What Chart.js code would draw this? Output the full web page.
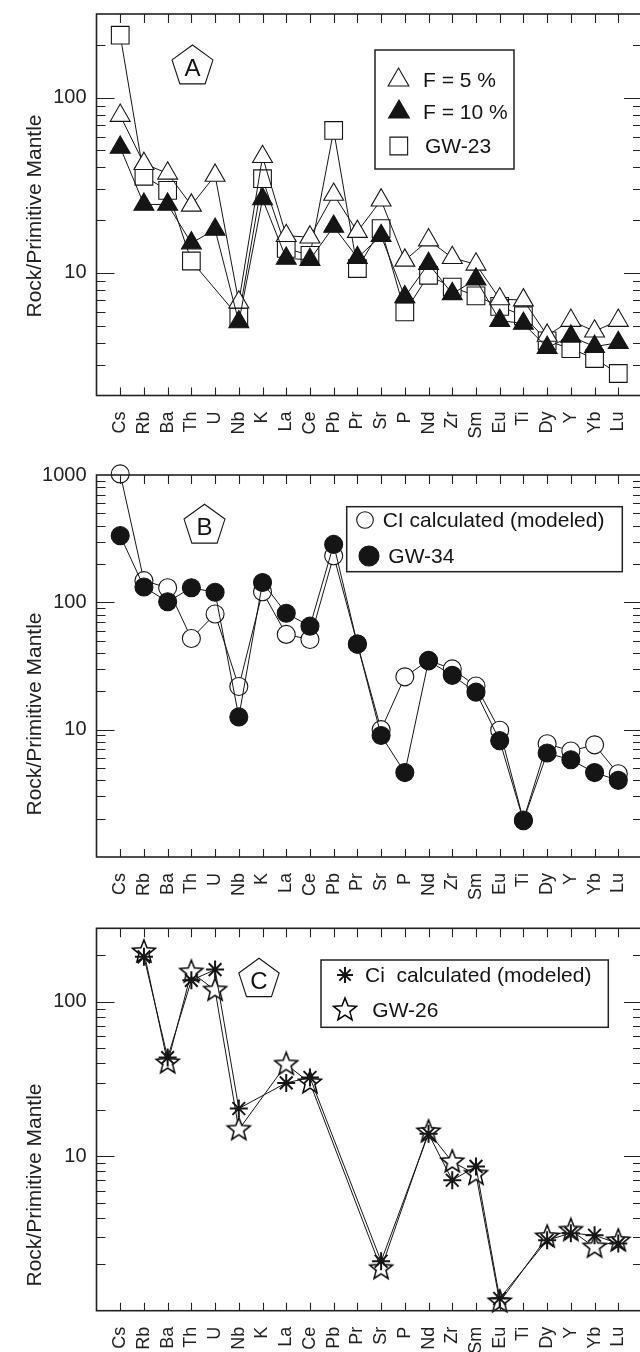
<!DOCTYPE html>
<html>
<head>
<meta charset="utf-8">
<script src="https://cdn.jsdelivr.net/npm/chart.js"></script>
<style>
  html, body { margin: 0; padding: 0; background: #fff; overflow: hidden; }
  body { width: 640px; height: 1352px; position: relative; }
  canvas { position: absolute; left: 0; }
</style>
</head>
<body>
<canvas id="chartA" width="642" height="445" style="top:0px"></canvas>
<canvas id="chartB" width="642" height="460" style="top:445px"></canvas>
<canvas id="chartC" width="642" height="447" style="top:905px"></canvas>
<script>
// trace elements, primitive-mantle normalised
var elements = ["Cs", "Rb", "Ba", "Th", "U", "Nb", "K", "La", "Ce", "Pb", "Pr",
  "Sr", "P", "Nd", "Zr", "Sm", "Eu", "Ti", "Dy", "Y", "Yb", "Lu"];

// panel A: partial melting models and GW-23
var meltF5 = [79, 42, 37, 24.3, 36, 6.8, 46, 16.3, 16, 28, 17.2, 26, 11.8, 15.4, 12.2, 11.2, 7.1, 7.0, 4.4, 5.35, 4.65, 5.35];
var meltF10 = [52, 24.6, 24.6, 14.8, 17.7, 5.25, 26.4, 12.1, 11.9, 18.4, 12.2, 16.3, 7.3, 11.3, 7.6, 9.2, 5.35, 5.15, 3.75, 4.35, 3.8, 4.0];
var gw23 = [227, 35.6, 29.6, 11.7, null, 5.6, 34.5, 13.8, 12.6, 65, 10.6, 17.9, 6.0, 9.7, 8.3, 7.4, 6.45, 5.7, 4.1, 3.7, 3.25, 2.67];

// panel B: modeled CI and GW-34
var ciModelB = [1020, 148, 130, 52, 81, 21.8, 121, 56, 51, 232, 47, 10, 26, 35, 30, 22, 9.9, 1.95, 7.75, 6.8, 7.6, 4.5];
var gw34 = [334, 132, 101, 130, 120, 12.6, 143, 82, 65, 285, 47, 9.0, 4.6, 34.7, 26.7, 19.7, 8.2, 1.93, 6.55, 5.8, 4.6, 4.0];

// panel C: modeled Ci and GW-26
var ciModelC = [null, 196, 43.6, 138, 162, 20.4, null, 29.9, 32.4, null, null, 2.09, null, 14, 7.0, 8.6, 1.2, null, 2.86, 3.18, 3.08, 2.72];
var gw26 = [null, 211, 40.3, 156, 119, 14.9, null, 39.4, 29.9, null, null, 1.87, null, 14.4, 9.2, 7.64, 1.14, null, 3.0, 3.31, 2.58, 2.83];

// labelled y ticks
var yLabelsA = [10, 100];
var yLabelsB = [10, 100, 1000];
var yLabelsC = [10, 100];

var INK = "#151515";
var FONT = '"Liberation Sans", Arial, Helvetica, sans-serif';

// blank slot at each end so the first/last element sit one step in from the frame
function padded(arr) {
  return [null].concat(arr, [null]);
}
var xLabels = [""].concat(elements, [""]);

function makeStar(R) {
  var s = Math.ceil(2 * R + 4);
  var c = document.createElement("canvas");
  c.width = s;
  c.height = s;
  var g = c.getContext("2d");
  var cx = s / 2, cy = s / 2;
  g.beginPath();
  for (var i = 0; i < 10; i++) {
    var rr = i % 2 ? R * 0.43 : R;
    var a = (i * Math.PI) / 5;
    g.lineTo(cx + rr * Math.sin(a), cy - rr * Math.cos(a));
  }
  g.closePath();
  g.fillStyle = "#fff";
  g.fill();
  g.lineWidth = 1.5;
  g.strokeStyle = "#000";
  g.stroke();
  return c;
}
var starImg = makeStar(12);

function drawMarker(ctx, m, x, y) {
  ctx.save();
  ctx.strokeStyle = INK;
  ctx.fillStyle = m.fill;
  ctx.lineWidth = m.lw || 1.1;
  ctx.beginPath();
  if (m.shape === "triangle") {
    for (var k = 0; k < 3; k++) {
      var a = (k * 2 * Math.PI) / 3;
      ctx.lineTo(x + Math.sin(a) * m.r, y - Math.cos(a) * m.r);
    }
    ctx.closePath();
    ctx.fill();
    ctx.stroke();
  } else if (m.shape === "rect") {
    var h = m.r / Math.SQRT2;
    ctx.rect(x - h, y - h, 2 * h, 2 * h);
    ctx.fill();
    ctx.stroke();
  } else if (m.shape === "circle") {
    ctx.arc(x, y, m.r, 0, Math.PI * 2);
    ctx.fill();
    ctx.stroke();
  } else if (m.shape === "asterisk") {
    for (var j = 0; j < 4; j++) {
      var b = (j * Math.PI) / 4;
      ctx.moveTo(x - Math.cos(b) * m.r, y - Math.sin(b) * m.r);
      ctx.lineTo(x + Math.cos(b) * m.r, y + Math.sin(b) * m.r);
    }
    ctx.stroke();
  } else if (m.shape === "star") {
    ctx.drawImage(starImg, Math.round(x - starImg.width / 2), Math.round(y - starImg.height / 2));
  }
  ctx.restore();
}

// frame, inward ticks, axis title, panel letter and legend box
var panelDecor = {
  id: "panelDecor",
  afterDatasetsDraw: function (chart, args, opts) {
    var ctx = chart.ctx;
    var area = chart.chartArea;
    var xs = chart.scales.x;
    var ys = chart.scales.y;
    ctx.save();
    ctx.strokeStyle = "#222";
    ctx.lineWidth = 1.1;

    // x ticks on top and bottom edges
    ctx.beginPath();
    for (var i = 1; i <= elements.length; i++) {
      var px = Math.round(xs.getPixelForValue(i)) + 0.5;
      ctx.moveTo(px, area.top);
      ctx.lineTo(px, area.top + 9);
      ctx.moveTo(px, area.bottom);
      ctx.lineTo(px, area.bottom - 8);
    }
    ctx.stroke();

    // log ticks on left and right edges
    var lo = Math.floor(Math.log10(ys.min));
    var hi = Math.ceil(Math.log10(ys.max));
    ctx.beginPath();
    for (var e = lo; e <= hi; e++) {
      for (var k = 1; k <= 9; k++) {
        var v = k * Math.pow(10, e);
        if (v < ys.min * 1.0001 || v > ys.max * 0.9999) continue;
        var py = Math.round(ys.getPixelForValue(v)) + 0.5;
        var len = k === 1 ? 18 : 9;
        ctx.moveTo(area.left, py);
        ctx.lineTo(area.left + len, py);
        ctx.moveTo(area.right, py);
        ctx.lineTo(area.right - len, py);
      }
    }
    ctx.stroke();

    // frame
    ctx.lineWidth = 1.6;
    ctx.strokeRect(area.left, area.top, area.right - area.left - 1, area.bottom - area.top);

    // y axis title
    ctx.fillStyle = "#222";
    ctx.font = "21px " + FONT;
    ctx.textAlign = "center";
    ctx.textBaseline = "middle";
    ctx.translate(35, opts.titleY);
    ctx.rotate(-Math.PI / 2);
    ctx.fillText("Rock/Primitive Mantle", 0, 0);
    ctx.restore();

    // panel letter in a pentagon
    var p = opts.pentagon;
    ctx.save();
    ctx.beginPath();
    for (var q = 0; q < 5; q++) {
      var ang = (q * 2 * Math.PI) / 5;
      ctx.lineTo(p.x + Math.sin(ang) * p.r, p.y - Math.cos(ang) * p.r);
    }
    ctx.closePath();
    ctx.fillStyle = "#fff";
    ctx.fill();
    ctx.strokeStyle = INK;
    ctx.lineWidth = 1.1;
    ctx.stroke();
    ctx.fillStyle = INK;
    ctx.font = "24px " + FONT;
    ctx.textAlign = "center";
    ctx.textBaseline = "alphabetic";
    ctx.fillText(p.letter, p.x, p.y + 9);
    ctx.restore();

    // legend
    var lg = opts.legend;
    ctx.save();
    ctx.fillStyle = "#fff";
    ctx.fillRect(lg.x, lg.y, lg.w, lg.h);
    ctx.strokeStyle = "#222";
    ctx.lineWidth = 1.5;
    ctx.strokeRect(lg.x, lg.y, lg.w, lg.h);
    ctx.font = "21px " + FONT;
    ctx.textBaseline = "middle";
    ctx.textAlign = "left";
    lg.items.forEach(function (it) {
      drawMarker(ctx, it.marker, it.mx, it.my);
      ctx.fillStyle = INK;
      ctx.fillText(it.text, it.tx, it.my + 1);
    });
    ctx.restore();
  },
};

function lineSet(label, values, style) {
  var ds = {
    label: label,
    data: padded(values),
    borderColor: INK,
    borderWidth: 1,
    tension: 0,
    fill: false,
    spanGaps: true,
    clip: false,
    pointStyle: style.pointStyle,
    pointRadius: style.radius,
    pointBackgroundColor: style.fill,
    pointBorderColor: INK,
    pointBorderWidth: style.borderWidth || 1.1,
  };
  return ds;
}

// drop the extra room Chart.js keeps for the rotated end labels
function noScalePadding(s) {
  s.paddingLeft = 0;
  s.paddingRight = 0;
  s.paddingTop = 0;
  s.paddingBottom = 0;
}

function makePanel(id, cfg) {
  var canvas = document.getElementById(id);
  return new Chart(canvas.getContext("2d"), {
    type: "line",
    data: { labels: xLabels, datasets: cfg.datasets },
    options: {
      responsive: false,
      animation: false,
      devicePixelRatio: 1,
      layout: {
        autoPadding: false,
        padding: { top: cfg.padTop, left: 0, right: 0, bottom: 0 },
      },
      plugins: {
        legend: { display: false },
        tooltip: { enabled: false },
        panelDecor: cfg.decor,
      },
      scales: {
        x: {
          type: "category",
          offset: false,
          grid: { display: false, drawTicks: false },
          border: { display: false },
          ticks: {
            autoSkip: false,
            minRotation: 90,
            maxRotation: 90,
            padding: cfg.labelPad,
            color: "#222",
            font: { family: FONT, size: 18 },
          },
          afterFit: function (s) {
            s.height = cfg.xHeight;
            noScalePadding(s);
          },
        },
        y: {
          type: "logarithmic",
          min: cfg.yMin,
          max: cfg.yMax,
          grid: { display: false, drawTicks: false },
          border: { display: false },
          ticks: {
            autoSkip: false,
            padding: 10,
            color: "#222",
            font: { family: FONT, size: 20 },
            callback: function (v) {
              return cfg.yLabels.indexOf(Number(v)) >= 0 ? String(v) : "";
            },
          },
          afterFit: function (s) {
            s.width = 96.5;
            noScalePadding(s);
          },
        },
      },
    },
    plugins: [panelDecor],
  });
}

var openTri = { pointStyle: "triangle", radius: 11.5, fill: "#fff" };
var fullTri = { pointStyle: "triangle", radius: 11.5, fill: INK };
var openSq = { pointStyle: "rect", radius: 12.5, fill: "#fff" };
var openCirc = { pointStyle: "circle", radius: 9, fill: "#fff" };
var fullCirc = { pointStyle: "circle", radius: 9, fill: INK };
var asterisk = { pointStyle: "star", radius: 9, fill: INK, borderWidth: 2 };
var starOpen = { pointStyle: starImg, radius: 12, fill: "#fff" };

makePanel("chartA", {
  padTop: 14,
  xHeight: 49.5,
  labelPad: 16,
  yMin: 2,
  yMax: 300,
  yLabels: yLabelsA,
  datasets: [
    lineSet("F = 10 %", meltF10, fullTri),
    lineSet("F = 5 %", meltF5, openTri),
    lineSet("GW-23", gw23, openSq),
  ],
  decor: {
    titleY: 216,
    pentagon: { x: 192.5, y: 66.5, r: 21.5, letter: "A" },
    legend: {
      x: 375, y: 50, w: 139, h: 119,
      items: [
        { marker: { shape: "triangle", r: 12, fill: "#fff" }, mx: 398.5, my: 80, tx: 423, text: "F = 5 %" },
        { marker: { shape: "triangle", r: 12, fill: INK }, mx: 399, my: 112, tx: 423, text: "F = 10 %" },
        { marker: { shape: "rect", r: 12.5, fill: "#fff" }, mx: 398.8, my: 146, tx: 425, text: "GW-23" },
      ],
    },
  },
});

makePanel("chartB", {
  padTop: 30,
  xHeight: 48,
  labelPad: 16,
  yMin: 1,
  yMax: 1000,
  yLabels: yLabelsB,
  datasets: [
    lineSet("GW-34", gw34, fullCirc),
    lineSet("CI calculated (modeled)", ciModelB, openCirc),
  ],
  decor: {
    titleY: 269,
    pentagon: { x: 204.5, y: 80.7, r: 21.5, letter: "B" },
    legend: {
      x: 346.7, y: 61.7, w: 275.6, h: 65,
      items: [
        { marker: { shape: "circle", r: 8.3, fill: "#fff" }, mx: 365, my: 75, tx: 382.7, text: "CI calculated (modeled)" },
        { marker: { shape: "circle", r: 10, fill: INK }, mx: 369, my: 111, tx: 388.3, text: "GW-34" },
      ],
    },
  },
});

makePanel("chartC", {
  padTop: 23.3,
  xHeight: 41.3,
  labelPad: 16,
  yMin: 1,
  yMax: 300,
  yLabels: yLabelsC,
  datasets: [
    lineSet("Ci calculated (modeled)", ciModelC, asterisk),
    lineSet("GW-26", gw26, starOpen),
  ],
  decor: {
    titleY: 280,
    pentagon: { x: 259, y: 74.5, r: 21.2, letter: "C" },
    legend: {
      x: 321, y: 55, w: 287.3, h: 67.3,
      items: [
        { marker: { shape: "asterisk", r: 8, fill: INK, lw: 2 }, mx: 345, my: 70, tx: 365, text: "Ci  calculated (modeled)" },
        { marker: { shape: "star" }, mx: 345, my: 105, tx: 372.3, text: "GW-26" },
      ],
    },
  },
});
</script>
</body>
</html>
